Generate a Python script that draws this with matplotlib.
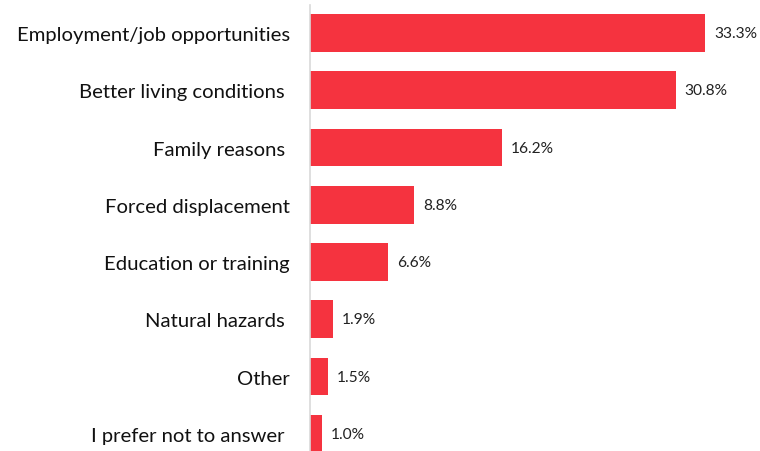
import matplotlib.pyplot as plt

reasons = [
    "Employment/job opportunities",
    "Better living conditions ",
    "Family reasons ",
    "Forced displacement",
    "Education or training",
    "Natural hazards ",
    "Other",
    "I prefer not to answer ",
]
shares = [33.3, 30.8, 16.2, 8.8, 6.6, 1.9, 1.5, 1.0]

bar_color = "#F5333F"

plt.rcParams["font.family"] = ["Lato", "DejaVu Sans"]

fig = plt.figure(figsize=(7.6, 4.52), dpi=100)
ax = fig.add_axes([310 / 760, 0.0, 450 / 760, 446 / 452])

y = list(range(len(reasons)))
ax.barh(y, shares, height=0.66, color=bar_color)

for yi, v in zip(y, shares):
    ax.text(v + 0.75, yi, f"{v:.1f}%", va="center", ha="left",
            fontsize=11.2, color="#222222")

ax.set_yticks(y)
ax.set_yticklabels(reasons, fontsize=14.6, color="#111111")
ax.tick_params(axis="y", length=0, pad=14.4)
ax.set_xticks([])

ax.set_xlim(0, 37.9)
ax.set_ylim(7.30, -0.49)

for side in ["top", "right", "bottom"]:
    ax.spines[side].set_visible(False)
ax.spines["left"].set_color("#D9D9D9")
ax.spines["left"].set_linewidth(1.2)

fig.savefig("out.png", dpi=100)
